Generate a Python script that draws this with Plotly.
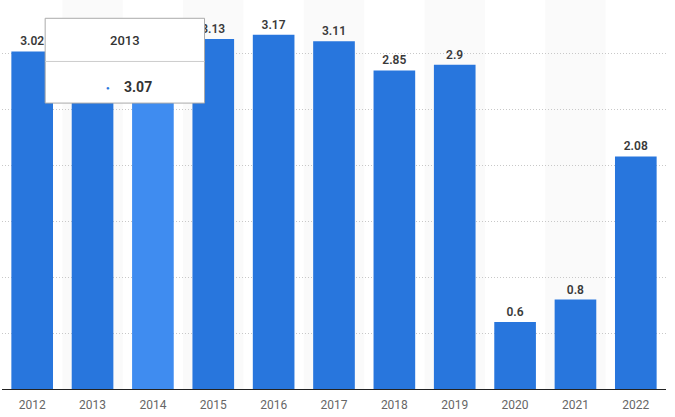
import plotly.graph_objects as go

# values (2013/2014 labels sit under the tooltip)
years = ["2012", "2013", "2014", "2015", "2016", "2017", "2018", "2019", "2020", "2021", "2022"]
values = [3.02, 3.07, 3.08, 3.13, 3.17, 3.11, 2.85, 2.9, 0.6, 0.8, 2.08]
labels = ["3.02", "", "", "3.13", "3.17", "3.11", "2.85", "2.9", "0.6", "0.8", "2.08"]
hover_year = "2013"
hover_value = "3.07"
highlight = "2014"

bar_colors = ["#3f8cf0" if y == highlight else "#2876dd" for y in years]

fig = go.Figure()
fig.add_trace(go.Bar(
    x=years, y=values,
    marker=dict(color=bar_colors, line=dict(width=0)),
    width=0.69,
    text=labels, textposition="outside", cliponaxis=False,
    textfont=dict(family="Roboto", size=12, color="#3a3a3a", weight=600),
    hoverinfo="skip",
))

# alternating light column bands
shapes = []
for i in range(1, len(years), 2):
    shapes.append(dict(type="rect", xref="x", yref="paper", x0=i - 0.5, x1=i + 0.5,
                       y0=0, y1=1, fillcolor="#fafafa", line=dict(width=0), layer="below"))

# tooltip box
shapes.append(dict(type="rect", xref="paper", yref="paper", x0=0.065, x1=0.305,
                   y0=0.735, y1=0.953, fillcolor="white", line=dict(color="#aaaaaa", width=1),
                   layer="above"))
shapes.append(dict(type="line", xref="paper", yref="paper", x0=0.065, x1=0.305,
                   y0=0.842, y1=0.842, line=dict(color="#cccccc", width=1), layer="above"))

fig.update_layout(
    width=675, height=417,
    margin=dict(l=2, r=9, t=0, b=28),
    plot_bgcolor="white", paper_bgcolor="white",
    showlegend=False,
    bargap=0.31,
    shapes=shapes,
    font=dict(family="Roboto", color="#666666"),
    xaxis=dict(showgrid=False, showline=True, linecolor="#222222", linewidth=1,
               ticks="outside", ticklen=5, tickcolor="rgba(0,0,0,0)",
               tickfont=dict(family="Roboto", size=12, color="#666666")),
    yaxis=dict(range=[0, 3.48], dtick=0.5, showticklabels=False, showline=False,
               zeroline=False, gridcolor="#c8c8c8", griddash="1px,2px", gridwidth=1),
    annotations=[
        dict(xref="paper", yref="paper", x=0.185, y=0.895, text=hover_year, showarrow=False,
             xanchor="center", yanchor="middle",
             font=dict(family="Roboto", size=13, color="#333333", weight=500)),
        dict(xref="paper", yref="paper", x=0.160, y=0.776, text="●", showarrow=False,
             xanchor="center", yanchor="middle",
             font=dict(size=6, color="#2876dd")),
        dict(xref="paper", yref="paper", x=0.205, y=0.776, text="<b>" + hover_value + "</b>",
             showarrow=False, xanchor="center", yanchor="middle",
             font=dict(family="Roboto", size=14, color="#333333")),
    ],
)

fig.write_html("out.html", config={"displayModeBar": False},
               post_script="document.body.style.margin='0';")
